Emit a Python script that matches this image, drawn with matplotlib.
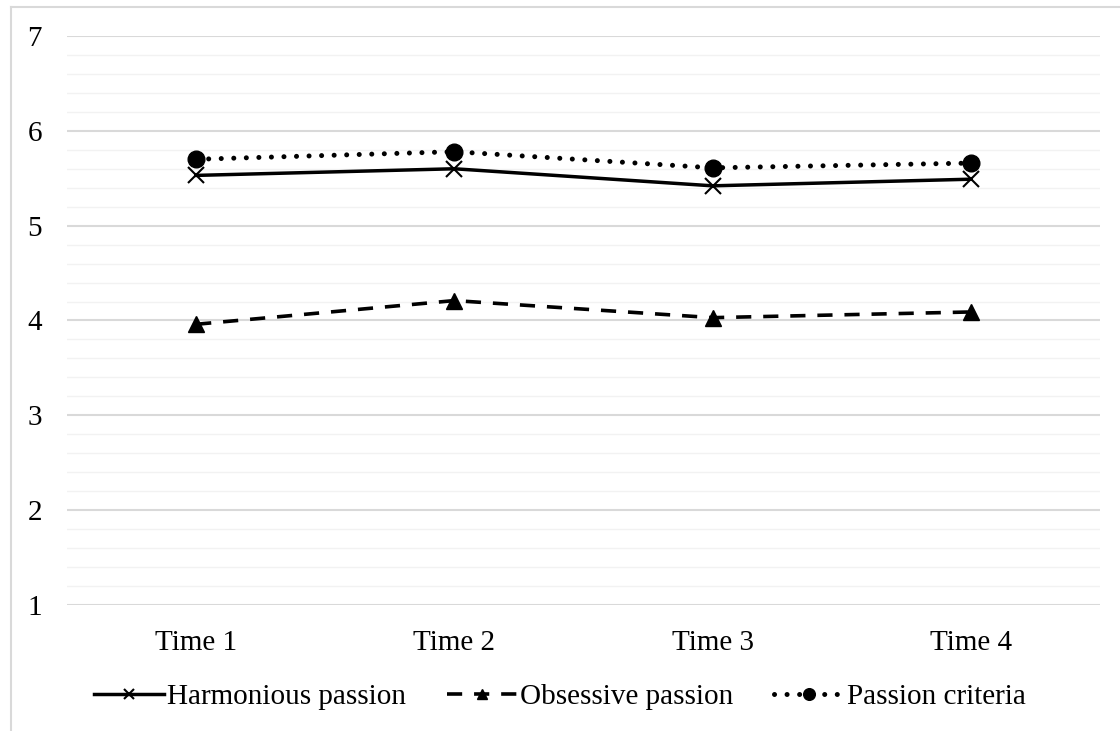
import numpy as np
import matplotlib.pyplot as plt
from matplotlib.lines import Line2D

times = ["Time 1", "Time 2", "Time 3", "Time 4"]
harmonious = [5.53, 5.60, 5.42, 5.49]
obsessive = [3.96, 4.21, 4.03, 4.09]
criteria = [5.70, 5.78, 5.61, 5.66]

plt.rcParams['font.family'] = ['Liberation Serif', 'DejaVu Serif']

fig = plt.figure(figsize=(11.2, 7.31), dpi=100)
ax = fig.add_axes([67/1120, 1-605/731, 1033/1120, (605-36)/731])

# chart frame (only left and top edges are on the page)
fig.add_artist(Line2D([11/1120, 11/1120], [0, 1-7/731], color='#d9d9d9', lw=1.5))
fig.add_artist(Line2D([11/1120, 1], [1-7/731, 1-7/731], color='#d9d9d9', lw=1.5))
fig.text(18/1120, 1+6/731, "Figure 1. Passion Trajectories", fontsize=20,
         fontweight='bold', va='baseline', ha='left')

x = np.arange(len(times))
ax.plot(x, harmonious, color='black', lw=2.5, ls='-', marker='x', ms=11,
        mew=1.5, label='Harmonious passion', zorder=3)
ax.plot(x, obsessive, color='black', lw=2.6, ls=(0, (4.2, 3.3)), marker='^',
        ms=11, label='Obsessive passion', zorder=3)
ax.plot(x, criteria, color='black', lw=3.6, ls=(0, (0.01, 2.5)),
        dash_capstyle='round', marker='o', ms=12, label='Passion criteria',
        zorder=3)

ax.set_xlim(-0.5, 3.5)
ax.set_ylim(1, 7)
ax.set_xticks(x)
ax.set_xticklabels(times)
ax.set_yticks(range(1, 8))
ax.set_yticks(np.arange(1, 7.01, 0.2), minor=True)
ax.grid(True, which='major', axis='y', color='#d9d9d9', lw=1.5, zorder=0)
ax.grid(True, which='minor', axis='y', color='#f2f2f2', lw=1.0, zorder=0)
ax.tick_params(axis='both', which='both', length=0, labelsize=21)
ax.tick_params(axis='y', pad=18)
ax.tick_params(axis='x', pad=18)
for s in ax.spines.values():
    s.set_visible(False)

fig.legend(loc='center', bbox_to_anchor=(0.5, 1-697/731), ncol=3,
           frameon=False, fontsize=21, handlelength=2.4, columnspacing=1.4,
           handletextpad=0.1, markerscale=0.7)

fig.savefig('out.png', dpi=100)
